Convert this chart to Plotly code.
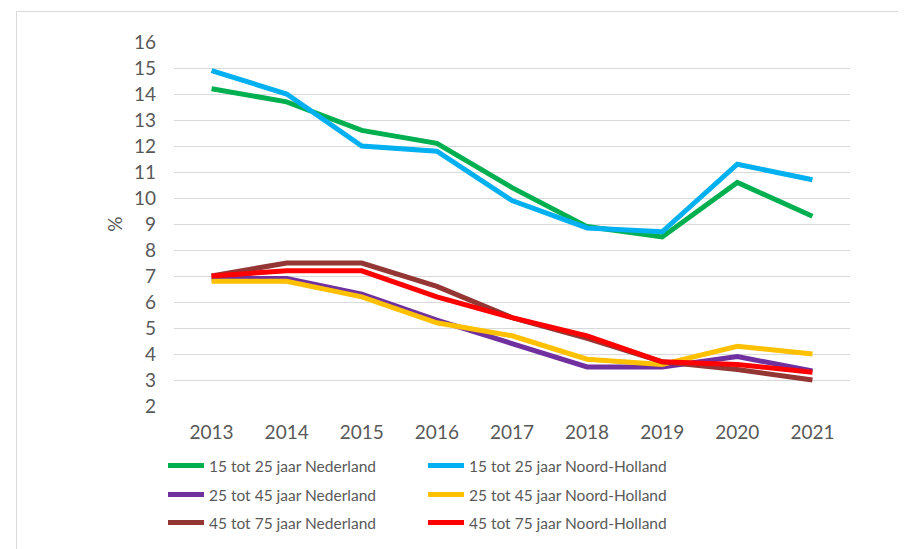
import plotly.graph_objects as go

years = ["2013", "2014", "2015", "2016", "2017", "2018", "2019", "2020", "2021"]

nl_15_25 = [14.2, 13.7, 12.6, 12.1, 10.4, 8.9, 8.5, 10.6, 9.3]
nh_15_25 = [14.9, 14.0, 12.0, 11.8, 9.9, 8.85, 8.7, 11.3, 10.7]
nl_25_45 = [6.9, 6.9, 6.3, 5.3, 4.4, 3.5, 3.5, 3.9, 3.35]
nh_25_45 = [6.8, 6.8, 6.2, 5.2, 4.7, 3.8, 3.6, 4.3, 4.0]
nl_45_75 = [7.0, 7.5, 7.5, 6.6, 5.4, 4.6, 3.7, 3.4, 3.0]
nh_45_75 = [7.0, 7.2, 7.2, 6.2, 5.4, 4.7, 3.7, 3.6, 3.3]

series_names = [
    "15 tot 25 jaar Nederland", "15 tot 25 jaar Noord-Holland",
    "25 tot 45 jaar Nederland", "25 tot 45 jaar Noord-Holland",
    "45 tot 75 jaar Nederland", "45 tot 75 jaar Noord-Holland",
]
series_values = [nl_15_25, nh_15_25, nl_25_45, nh_25_45, nl_45_75, nh_45_75]
colors = ["#00B050", "#00B0F0", "#7030A0", "#FFC000", "#943634", "#FF0000"]
legend_ids = ["legend", "legend", "legend2", "legend2", "legend3", "legend3"]

y_ticks = list(range(2, 17))

fig = go.Figure()
for name, vals, col, lg in zip(series_names, series_values, colors, legend_ids):
    fig.add_trace(go.Scatter(x=years, y=vals, name=name, mode="lines",
                             line=dict(color=col, width=5), legend=lg))

FAM = "Lato, 'Open Sans', sans-serif"
font = dict(family=FAM, size=19, color="#595959")
lfont = dict(family=FAM, size=15.5, color="#595959")

# the page body has an 8px margin: positions below are screen px minus 8
OFF = 8
W, H = 906, 549
L, R, T, B = 174 - OFF, 56 + OFF, 42 - OFF, 143 + OFF
pw, ph = W - L - R, H - T - B


def px(x):
    return (x - OFF - L) / pw


def py(y):
    return (H - B - (y - OFF)) / ph


def legend_row(ycenter):
    return dict(orientation="h", x=px(163), y=py(ycenter), xanchor="left", yanchor="middle",
                entrywidth=209, entrywidthmode="pixels", itemwidth=36,
                font=lfont, bgcolor="rgba(0,0,0,0)", borderwidth=0)


fig.update_layout(
    width=W, height=H,
    margin=dict(l=L, r=R, t=T, b=B, pad=0),
    paper_bgcolor="white", plot_bgcolor="white",
    font=font,
    showlegend=True,
    legend=legend_row(466),
    legend2=legend_row(495),
    legend3=legend_row(523),
    xaxis=dict(type="category", range=[-0.5, 8.5], showgrid=False, zeroline=False,
               showline=False, ticks="", ticklabelstandoff=13,
               tickfont=font, fixedrange=True),
    yaxis=dict(range=[2, 16], tickvals=y_ticks, showgrid=True, gridcolor="#D9D9D9",
               gridwidth=1.2, zeroline=False, showline=False, ticks="",
               ticklabelstandoff=17, tickfont=font,
               title=dict(text="%", font=font, standoff=6)),
    shapes=[dict(type="rect", xref="paper", yref="paper",
                 x0=px(16.5), x1=px(930), y0=py(580), y1=py(11.5),
                 line=dict(color="#D9D9D9", width=1), fillcolor="rgba(0,0,0,0)",
                 layer="below")],
)

fig.write_html("out.html")
